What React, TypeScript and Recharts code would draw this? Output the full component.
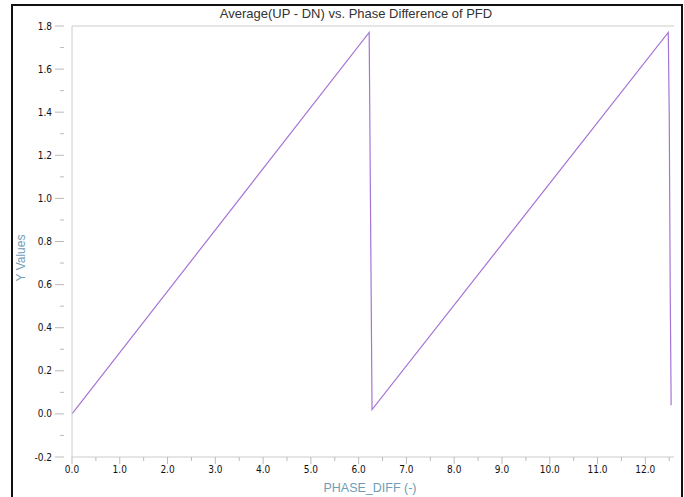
import React from 'react';
import { LineChart, Line, XAxis, YAxis, ReferenceLine } from 'recharts';

// sawtooth
const phaseDiff = [0, 6.22, 6.28, 12.48, 12.5, 12.52, 12.54];
const avgUpDn = [0, 1.77, 0.02, 1.77, 1.4, 0.6, 0.04];

const xTicks = [0, 0.5, 1, 1.5, 2, 2.5, 3, 3.5, 4, 4.5, 5, 5.5, 6, 6.5, 7, 7.5, 8, 8.5, 9, 9.5, 10, 10.5, 11, 11.5, 12, 12.5];
const yTicks = [-0.2, -0.1, 0, 0.1, 0.2, 0.3, 0.4, 0.5, 0.6, 0.7, 0.8, 0.9, 1.0, 1.1, 1.2, 1.3, 1.4, 1.5, 1.6, 1.7, 1.8];

const data = phaseDiff.map((x, i) => ({ x, y: avgUpDn[i] }));

const isMajor = (v: number, step: number) => Math.abs(v / step - Math.round(v / step)) < 1e-6;

const XTick = (props: any) => {
  const { x, payload } = props;
  const y = 457; // axis line
  const major = isMajor(payload.value, 1);
  return (
    <g>
      <line x1={x} x2={x} y1={y} y2={y + (major ? 7 : 4)} stroke="#bbb" />
      {major && (
        <text x={x} y={y + 16} textAnchor="middle" fontSize={10} fill="#111" fontFamily="DejaVu Sans Condensed">
          {payload.value.toFixed(1)}
        </text>
      )}
    </g>
  );
};

const YTick = (props: any) => {
  const { x, y, payload } = props;
  const major = isMajor(payload.value, 0.2);
  return (
    <g>
      <line x1={x} x2={x - (major ? 9 : 4)} y1={y} y2={y} stroke="#bbb" />
      {major && (
        <text x={x - 12} y={y + 3.5} textAnchor="end" fontSize={10} fill="#111" fontFamily="DejaVu Sans Condensed">
          {payload.value.toFixed(1)}
        </text>
      )}
    </g>
  );
};

export default function App() {
  return (
    <div style={{ position: 'absolute', left: 0, top: 0, width: 684, height: 497, overflow: 'hidden', background: '#fff', fontFamily: 'Liberation Sans, Arial, sans-serif' }}>
      <div style={{ position: 'absolute', left: 11, top: 4, width: 668, height: 500, border: '2px solid #111' }} />
      <div style={{ position: 'absolute', left: 0, width: 712, top: 6, textAlign: 'center', fontSize: 13, color: '#333' }}>
        Average(UP - DN) vs. Phase Difference of PFD
      </div>
      <div style={{ position: 'absolute', left: 0, width: 740, top: 481, textAlign: 'center', fontSize: 12.5, lineHeight: '14px', color: '#6f9db5' }}>
        PHASE_DIFF (-)
      </div>
      <div style={{ position: 'absolute', left: 21, top: 258, transform: 'translate(-50%, -50%) rotate(-90deg)', fontSize: 12, color: '#6f9db5', whiteSpace: 'nowrap' }}>
        Y Values
      </div>
      <LineChart width={684} height={497} data={data} margin={{ top: 26, right: 10, bottom: 10, left: 22 }} style={{ position: 'absolute', left: 0, top: 0 }}>
        <XAxis
          dataKey="x"
          type="number"
          domain={[0, 12.6]}
          ticks={xTicks}
          interval={0}
          tick={<XTick />}
          tickLine={false}
          axisLine={{ stroke: '#ccc' }}
          height={30}
        />
        <YAxis
          type="number"
          domain={[-0.2, 1.8]}
          ticks={yTicks}
          interval={0}
          tick={<YTick />}
          tickLine={false}
          axisLine={{ stroke: '#ccc' }}
          width={50}
        />
        <ReferenceLine y={1.8} stroke="#ccc" />
        <Line type="linear" dataKey="y" stroke="#a574d6" strokeWidth={1.2} dot={false} isAnimationActive={false} />
      </LineChart>
    </div>
  );
}
